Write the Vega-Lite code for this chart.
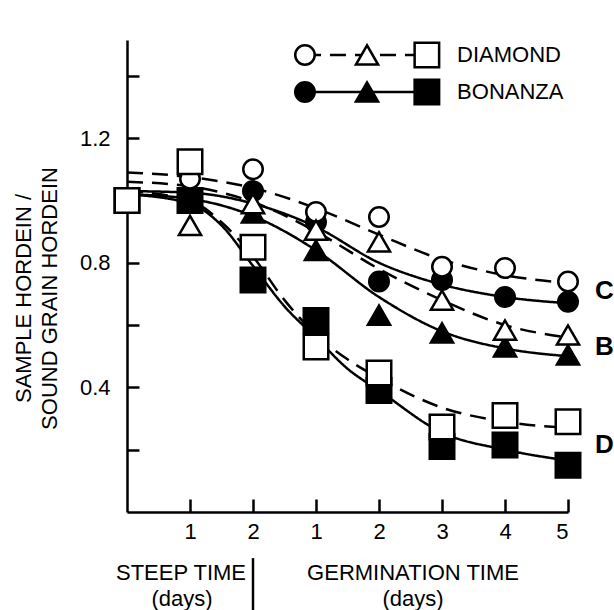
{
  "$schema": "https://vega.github.io/schema/vega-lite/v6.json",
  "width": 441,
  "height": 472,
  "autosize": {"type": "none"},
  "padding": {"left": 127, "top": 40, "right": 46, "bottom": 98},
  "background": "white",
  "config": {
    "view": {"stroke": null},
    "font": "Liberation Sans",
    "axis": {
      "domainColor": "black",
      "domainWidth": 2.5,
      "tickColor": "black",
      "tickWidth": 2.5,
      "grid": false,
      "labelColor": "black",
      "labelFont": "Liberation Sans",
      "labelFontSize": 22,
      "titleColor": "black",
      "titleFont": "Liberation Sans",
      "titleFontWeight": "normal"
    }
  },
  "datasets": {
    "points": [
      {"variety": "BONANZA", "group": "C", "day": 0, "ratio": 1.0},
      {"variety": "BONANZA", "group": "B", "day": 0, "ratio": 1.0},
      {"variety": "BONANZA", "group": "D", "day": 0, "ratio": 1.0},
      {"variety": "BONANZA", "group": "C", "day": 1, "ratio": 1.01},
      {"variety": "BONANZA", "group": "B", "day": 1, "ratio": 1.0},
      {"variety": "BONANZA", "group": "D", "day": 1, "ratio": 1.0},
      {"variety": "BONANZA", "group": "C", "day": 2, "ratio": 1.03},
      {"variety": "BONANZA", "group": "B", "day": 2, "ratio": 0.96},
      {"variety": "BONANZA", "group": "D", "day": 2, "ratio": 0.745},
      {"variety": "BONANZA", "group": "C", "day": 3, "ratio": 0.93},
      {"variety": "BONANZA", "group": "B", "day": 3, "ratio": 0.84},
      {"variety": "BONANZA", "group": "D", "day": 3, "ratio": 0.615},
      {"variety": "BONANZA", "group": "C", "day": 4, "ratio": 0.74},
      {"variety": "BONANZA", "group": "B", "day": 4, "ratio": 0.632},
      {"variety": "BONANZA", "group": "D", "day": 4, "ratio": 0.39},
      {"variety": "BONANZA", "group": "C", "day": 5, "ratio": 0.745},
      {"variety": "BONANZA", "group": "B", "day": 5, "ratio": 0.575},
      {"variety": "BONANZA", "group": "D", "day": 5, "ratio": 0.21},
      {"variety": "BONANZA", "group": "C", "day": 6, "ratio": 0.69},
      {"variety": "BONANZA", "group": "B", "day": 6, "ratio": 0.53},
      {"variety": "BONANZA", "group": "D", "day": 6, "ratio": 0.215},
      {"variety": "BONANZA", "group": "C", "day": 7, "ratio": 0.675},
      {"variety": "BONANZA", "group": "B", "day": 7, "ratio": 0.504},
      {"variety": "BONANZA", "group": "D", "day": 7, "ratio": 0.15},
      {"variety": "DIAMOND", "group": "C", "day": 0, "ratio": 1.0},
      {"variety": "DIAMOND", "group": "B", "day": 0, "ratio": 1.0},
      {"variety": "DIAMOND", "group": "D", "day": 0, "ratio": 1.0},
      {"variety": "DIAMOND", "group": "C", "day": 1, "ratio": 1.07},
      {"variety": "DIAMOND", "group": "B", "day": 1, "ratio": 0.92},
      {"variety": "DIAMOND", "group": "D", "day": 1, "ratio": 1.124},
      {"variety": "DIAMOND", "group": "C", "day": 2, "ratio": 1.1},
      {"variety": "DIAMOND", "group": "B", "day": 2, "ratio": 0.99},
      {"variety": "DIAMOND", "group": "D", "day": 2, "ratio": 0.85},
      {"variety": "DIAMOND", "group": "C", "day": 3, "ratio": 0.963},
      {"variety": "DIAMOND", "group": "B", "day": 3, "ratio": 0.905},
      {"variety": "DIAMOND", "group": "D", "day": 3, "ratio": 0.53},
      {"variety": "DIAMOND", "group": "C", "day": 4, "ratio": 0.947},
      {"variety": "DIAMOND", "group": "B", "day": 4, "ratio": 0.867},
      {"variety": "DIAMOND", "group": "D", "day": 4, "ratio": 0.446},
      {"variety": "DIAMOND", "group": "C", "day": 5, "ratio": 0.787},
      {"variety": "DIAMOND", "group": "B", "day": 5, "ratio": 0.68},
      {"variety": "DIAMOND", "group": "D", "day": 5, "ratio": 0.273},
      {"variety": "DIAMOND", "group": "C", "day": 6, "ratio": 0.783},
      {"variety": "DIAMOND", "group": "B", "day": 6, "ratio": 0.584},
      {"variety": "DIAMOND", "group": "D", "day": 6, "ratio": 0.31},
      {"variety": "DIAMOND", "group": "C", "day": 7, "ratio": 0.74},
      {"variety": "DIAMOND", "group": "B", "day": 7, "ratio": 0.568},
      {"variety": "DIAMOND", "group": "D", "day": 7, "ratio": 0.29}
    ],
    "curves": [
      {"variety": "DIAMOND", "group": "C", "day": 0, "ratio": 1.09},
      {"variety": "DIAMOND", "group": "C", "day": 1, "ratio": 1.075},
      {"variety": "DIAMOND", "group": "C", "day": 2, "ratio": 1.04},
      {"variety": "DIAMOND", "group": "C", "day": 3, "ratio": 0.975},
      {"variety": "DIAMOND", "group": "C", "day": 4, "ratio": 0.89},
      {"variety": "DIAMOND", "group": "C", "day": 5, "ratio": 0.81},
      {"variety": "DIAMOND", "group": "C", "day": 6, "ratio": 0.76},
      {"variety": "DIAMOND", "group": "C", "day": 7, "ratio": 0.735},
      {"variety": "BONANZA", "group": "C", "day": 0, "ratio": 1.03},
      {"variety": "BONANZA", "group": "C", "day": 1, "ratio": 1.025},
      {"variety": "BONANZA", "group": "C", "day": 2, "ratio": 0.99},
      {"variety": "BONANZA", "group": "C", "day": 3, "ratio": 0.915},
      {"variety": "BONANZA", "group": "C", "day": 4, "ratio": 0.8},
      {"variety": "BONANZA", "group": "C", "day": 5, "ratio": 0.73},
      {"variety": "BONANZA", "group": "C", "day": 6, "ratio": 0.69},
      {"variety": "BONANZA", "group": "C", "day": 7, "ratio": 0.67},
      {"variety": "DIAMOND", "group": "B", "day": 0, "ratio": 1.06},
      {"variety": "DIAMOND", "group": "B", "day": 1, "ratio": 1.045},
      {"variety": "DIAMOND", "group": "B", "day": 2, "ratio": 0.995},
      {"variety": "DIAMOND", "group": "B", "day": 3, "ratio": 0.9},
      {"variety": "DIAMOND", "group": "B", "day": 4, "ratio": 0.78},
      {"variety": "DIAMOND", "group": "B", "day": 5, "ratio": 0.68},
      {"variety": "DIAMOND", "group": "B", "day": 6, "ratio": 0.6},
      {"variety": "DIAMOND", "group": "B", "day": 7, "ratio": 0.56},
      {"variety": "BONANZA", "group": "B", "day": 0, "ratio": 1.02},
      {"variety": "BONANZA", "group": "B", "day": 1, "ratio": 1.005},
      {"variety": "BONANZA", "group": "B", "day": 2, "ratio": 0.95},
      {"variety": "BONANZA", "group": "B", "day": 3, "ratio": 0.84},
      {"variety": "BONANZA", "group": "B", "day": 4, "ratio": 0.69},
      {"variety": "BONANZA", "group": "B", "day": 5, "ratio": 0.58},
      {"variety": "BONANZA", "group": "B", "day": 6, "ratio": 0.525},
      {"variety": "BONANZA", "group": "B", "day": 7, "ratio": 0.5},
      {"variety": "DIAMOND", "group": "D", "day": 0, "ratio": 1.03},
      {"variety": "DIAMOND", "group": "D", "day": 1, "ratio": 1.0},
      {"variety": "DIAMOND", "group": "D", "day": 1.5, "ratio": 0.93},
      {"variety": "DIAMOND", "group": "D", "day": 2, "ratio": 0.82},
      {"variety": "DIAMOND", "group": "D", "day": 2.5, "ratio": 0.68},
      {"variety": "DIAMOND", "group": "D", "day": 3, "ratio": 0.57},
      {"variety": "DIAMOND", "group": "D", "day": 3.5, "ratio": 0.49},
      {"variety": "DIAMOND", "group": "D", "day": 4, "ratio": 0.43},
      {"variety": "DIAMOND", "group": "D", "day": 5, "ratio": 0.335},
      {"variety": "DIAMOND", "group": "D", "day": 6, "ratio": 0.29},
      {"variety": "DIAMOND", "group": "D", "day": 7, "ratio": 0.27},
      {"variety": "BONANZA", "group": "D", "day": 0, "ratio": 1.02},
      {"variety": "BONANZA", "group": "D", "day": 1, "ratio": 0.99},
      {"variety": "BONANZA", "group": "D", "day": 1.5, "ratio": 0.92},
      {"variety": "BONANZA", "group": "D", "day": 2, "ratio": 0.79},
      {"variety": "BONANZA", "group": "D", "day": 2.5, "ratio": 0.66},
      {"variety": "BONANZA", "group": "D", "day": 3, "ratio": 0.56},
      {"variety": "BONANZA", "group": "D", "day": 3.5, "ratio": 0.46},
      {"variety": "BONANZA", "group": "D", "day": 4, "ratio": 0.39},
      {"variety": "BONANZA", "group": "D", "day": 5, "ratio": 0.255},
      {"variety": "BONANZA", "group": "D", "day": 6, "ratio": 0.2},
      {"variety": "BONANZA", "group": "D", "day": 7, "ratio": 0.165}
    ],
    "curveLabels": [
      {"label": "C", "day": 7, "ratio": 0.709},
      {"label": "B", "day": 7, "ratio": 0.53},
      {"label": "D", "day": 7, "ratio": 0.215}
    ],
    "legendLines": [
      {"variety": "DIAMOND", "lx": 2.825, "ly": 1.467},
      {"variety": "DIAMOND", "lx": 4.76, "ly": 1.467},
      {"variety": "BONANZA", "lx": 2.825, "ly": 1.348},
      {"variety": "BONANZA", "lx": 4.76, "ly": 1.348}
    ],
    "legendSymbols": [
      {"variety": "DIAMOND", "group": "C", "lx": 2.825, "ly": 1.467},
      {"variety": "DIAMOND", "group": "B", "lx": 3.81, "ly": 1.467},
      {"variety": "DIAMOND", "group": "D", "lx": 4.76, "ly": 1.467},
      {"variety": "BONANZA", "group": "C", "lx": 2.825, "ly": 1.348},
      {"variety": "BONANZA", "group": "B", "lx": 3.81, "ly": 1.348},
      {"variety": "BONANZA", "group": "D", "lx": 4.76, "ly": 1.348}
    ],
    "legendText": [
      {"text": "DIAMOND", "lx": 5.24, "ly": 1.467},
      {"text": "BONANZA", "lx": 5.24, "ly": 1.348}
    ],
    "xTitles": [
      {"text": "STEEP TIME", "lx": 0.857, "ly": -0.196},
      {"text": "(days)", "lx": 0.873, "ly": -0.279},
      {"text": "GERMINATION TIME", "lx": 4.54, "ly": -0.196},
      {"text": "(days)", "lx": 4.54, "ly": -0.279}
    ],
    "divider": [
      {"lx": 2.0, "ly": -0.148, "ly2": -0.32}
    ]
  },
  "layer": [
    {
      "data": {"name": "curves"},
      "mark": {"type": "line", "interpolate": "monotone", "stroke": "black", "strokeWidth": 2.5},
      "encoding": {
        "x": {
          "field": "day", "type": "quantitative",
          "scale": {"domain": [0, 7], "nice": false, "zero": false},
          "axis": {
            "values": [1, 2, 3, 4, 5, 6, 7],
            "tickSize": -13,
            "labelPadding": 22,
            "labelExpr": "datum.value <= 2 ? format(datum.value, 'd') : format(datum.value - 2, 'd')",
            "title": null
          }
        },
        "y": {
          "field": "ratio", "type": "quantitative",
          "scale": {"domain": [0, 1.515], "nice": false},
          "axis": {
            "values": [0.2, 0.4, 0.6, 0.8, 1.0, 1.2, 1.4],
            "tickSize": -12,
            "labelPadding": 29,
            "labelExpr": "(datum.value == 0.4 || datum.value == 0.8 || datum.value == 1.2) ? format(datum.value, '.1f') : ''",
            "title": ["SAMPLE HORDEIN /", "SOUND GRAIN HORDEIN"],
            "titleFontSize": 22,
            "titleLineHeight": 26,
            "titleX": -92,
            "titleY": 258
          }
        },
        "detail": [{"field": "variety"}, {"field": "group"}],
        "strokeDash": {
          "field": "variety", "type": "nominal",
          "scale": {"domain": ["DIAMOND", "BONANZA"], "range": [[16, 9], [1, 0]]},
          "legend": null
        }
      }
    },
    {
      "data": {"name": "legendLines"},
      "mark": {"type": "line", "stroke": "black", "strokeWidth": 2.5},
      "encoding": {
        "x": {"field": "lx", "type": "quantitative"},
        "y": {"field": "ly", "type": "quantitative"},
        "detail": {"field": "variety"},
        "strokeDash": {"field": "variety", "type": "nominal", "legend": null}
      }
    },
    {
      "data": {"name": "points"},
      "mark": {"type": "point", "filled": true, "stroke": "black", "strokeWidth": 2.5, "opacity": 1},
      "encoding": {
        "x": {"field": "day", "type": "quantitative"},
        "y": {"field": "ratio", "type": "quantitative"},
        "shape": {
          "field": "group", "type": "nominal",
          "scale": {"domain": ["C", "B", "D"], "range": ["circle", "triangle-up", "square"]},
          "legend": null
        },
        "size": {
          "field": "group", "type": "nominal",
          "scale": {"domain": ["C", "B", "D"], "range": [380, 600, 480]},
          "legend": null
        },
        "fill": {
          "field": "variety", "type": "nominal",
          "scale": {"domain": ["DIAMOND", "BONANZA"], "range": ["white", "black"]},
          "legend": null
        }
      }
    },
    {
      "data": {"name": "legendSymbols"},
      "mark": {"type": "point", "filled": true, "stroke": "black", "strokeWidth": 2.5, "opacity": 1},
      "encoding": {
        "x": {"field": "lx", "type": "quantitative"},
        "y": {"field": "ly", "type": "quantitative"},
        "shape": {"field": "group", "type": "nominal", "legend": null},
        "size": {"field": "group", "type": "nominal", "legend": null},
        "fill": {"field": "variety", "type": "nominal", "legend": null}
      }
    },
    {
      "data": {"name": "legendText"},
      "mark": {"type": "text", "align": "left", "baseline": "middle", "fontSize": 22, "font": "Liberation Sans", "color": "black"},
      "encoding": {
        "x": {"field": "lx", "type": "quantitative"},
        "y": {"field": "ly", "type": "quantitative"},
        "text": {"field": "text"}
      }
    },
    {
      "data": {"name": "curveLabels"},
      "mark": {"type": "text", "align": "left", "baseline": "middle", "dx": 27, "fontSize": 26, "fontWeight": "bold", "font": "Liberation Sans", "color": "black"},
      "encoding": {
        "x": {"field": "day", "type": "quantitative"},
        "y": {"field": "ratio", "type": "quantitative"},
        "text": {"field": "label"}
      }
    },
    {
      "data": {"name": "xTitles"},
      "mark": {"type": "text", "align": "center", "baseline": "middle", "fontSize": 22, "font": "Liberation Sans", "color": "black"},
      "encoding": {
        "x": {"field": "lx", "type": "quantitative"},
        "y": {"field": "ly", "type": "quantitative"},
        "text": {"field": "text"}
      }
    },
    {
      "data": {"name": "divider"},
      "mark": {"type": "rule", "stroke": "black", "strokeWidth": 2.5},
      "encoding": {
        "x": {"field": "lx", "type": "quantitative"},
        "y": {"field": "ly", "type": "quantitative"},
        "y2": {"field": "ly2"}
      }
    }
  ]
}
